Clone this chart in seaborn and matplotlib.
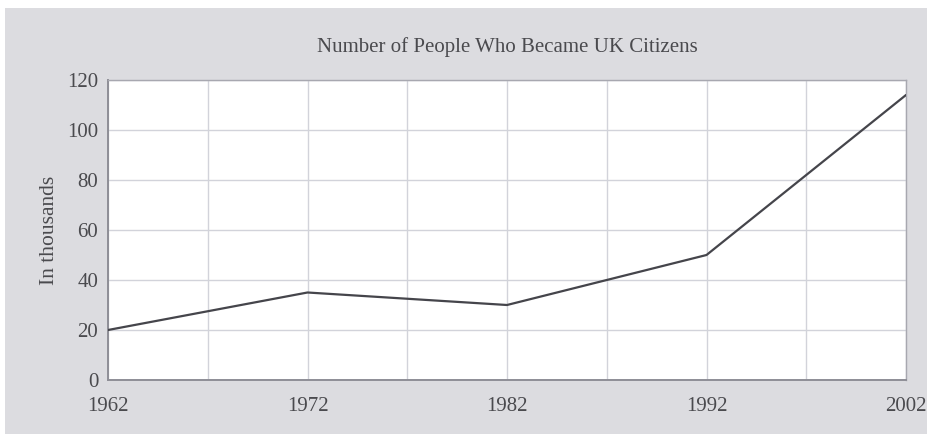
import matplotlib
matplotlib.use("Agg")
import matplotlib.pyplot as plt
import matplotlib.patches as mpatches
from matplotlib.ticker import FixedLocator
import seaborn as sns
import pandas as pd

years = [1962, 1972, 1982, 1992, 2002]
citizens_thousands = [20, 35, 30, 50, 114]
y_ticks = [0, 20, 40, 60, 80, 100, 120]

df = pd.DataFrame({"year": years, "citizens": citizens_thousands})

sns.set_theme(style="white")
plt.rcParams["font.family"] = ["Liberation Serif", "DejaVu Serif"]

W, H = 927, 434
fig = plt.figure(figsize=(W / 100, H / 100), dpi=100, facecolor="white")

# grey card behind the chart
fig.patches.append(mpatches.Rectangle((5 / W, 0), 1 - 5 / W, 1 - 8 / H,
                                      transform=fig.transFigure,
                                      facecolor="#dcdce0", edgecolor="none",
                                      zorder=-10))

ax = fig.add_axes([108 / W, 1 - 380 / H, (906 - 108) / W, (380 - 80) / H])
ax.set_zorder(5)
ax.set_facecolor("white")

sns.lineplot(data=df, x="year", y="citizens", ax=ax, color="#45454b",
             linewidth=1.6, zorder=3)

ax.set_xlim(years[0], years[-1])
ax.set_ylim(y_ticks[0], y_ticks[-1])
ax.set_xticks(years)
# extra vertical gridlines halfway between the labelled years
midpoints = [(a + b) / 2 for a, b in zip(years[:-1], years[1:])]
ax.xaxis.set_minor_locator(FixedLocator(midpoints))
ax.set_yticks(y_ticks)

ax.grid(True, which="both", axis="x", color="#d2d3da", linewidth=1.0)
ax.grid(True, which="major", axis="y", color="#d2d3da", linewidth=1.0)
ax.set_axisbelow(True)

text_color = "#4a4a4e"
ax.tick_params(axis="x", which="both", length=0, pad=12, labelsize=15,
               labelcolor=text_color)
ax.tick_params(axis="y", length=0, pad=7, labelsize=15, labelcolor=text_color)

for side in ["left", "bottom"]:
    ax.spines[side].set_color("#8e8e96")
    ax.spines[side].set_linewidth(1.4)
for side in ["top", "right"]:
    ax.spines[side].set_color("#a8a8b0")
    ax.spines[side].set_linewidth(1.0)

ax.set_xlabel("")
ax.set_ylabel("In thousands", fontsize=15.5, color=text_color, labelpad=6)
ax.set_title("Number of People Who Became UK Citizens", fontsize=15,
             color=text_color, pad=20)

fig.savefig("out.png", dpi=100, facecolor=fig.get_facecolor())
